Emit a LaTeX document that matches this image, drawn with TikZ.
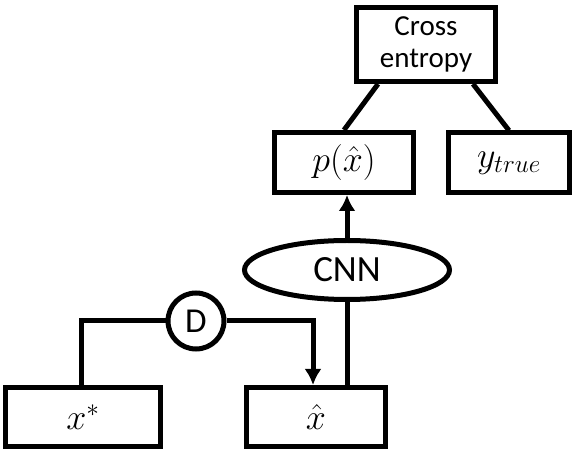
\RequirePackage{fix-cm}
\documentclass[tikz,border=0pt]{standalone}
\usepackage{amsmath}
\usepackage{fontspec}
\setmainfont{Carlito}
\usepackage{tikz}
\usetikzlibrary{arrows.meta,shapes.geometric}
\tikzstyle{blackbox}=[rectangle,draw=black,line width=5pt,
                      inner sep=0pt,minimum height=60pt]
\tikzstyle{blackoval}=[ellipse,draw=black,line width=5pt,
                       inner sep=0pt,minimum width=205pt,minimum height=59pt]
\tikzstyle{blackcirc}=[circle,draw=black,line width=5pt,
                       inner sep=0pt,minimum size=56pt]
\tikzstyle{link}=[line width=5pt]
\tikzstyle{arrow}=[line width=5pt,-{Latex[length=16pt,width=17pt]}]

\begin{document}
\begin{tikzpicture}[x=1pt,y=-1pt]
    \useasboundingbox (0,0) rectangle (574,454);
    \newcommand{\mathsz}{\fontsize{36}{40}\selectfont}
    \node (ce) at (426,44.5) [blackbox,minimum width=139pt,minimum height=74pt,
          align=center,font=\fontsize{29}{32}\selectfont]{Cross\\entropy};
    \node (p)  at (344,162.5) [blackbox,minimum width=139pt,font=\mathsz]{$p(\hat{x})$};
    \node (yt) at (509,163) [blackbox,minimum width=121pt,font=\mathsz]{$y_{true}$};
    \node (cnn) at (347,270) [blackoval,font=\fontsize{37}{42}\selectfont]{CNN};
    \node (dd) at (196,321) [blackcirc,font=\fontsize{35}{40}\selectfont]{D};
    \node (xh) at (316,417) [blackbox,minimum width=139pt,minimum height=59pt,font=\mathsz]{$\hat{x}$};
    \node (xs) at (83,417) [blackbox,minimum width=155pt,minimum height=59pt,font=\mathsz]{$x^{*}$};
    % loss on top
    \draw[link] ([xshift=-48pt]ce.south) -- (p.north);
    \draw[link] ([xshift=47pt]ce.south) -- (yt.north);
    % network
    \draw[arrow] (cnn.north) -- (cnn.north |- p.south);
    \draw[link] (cnn.south) -- (cnn.south |- xh.north);
    % degradation
    \draw[link] ([xshift=-2pt]xs.north) |- (dd.west);
    \draw[arrow] (dd.east) -| ([xshift=-3pt]xh.north);
  \end{tikzpicture}
\end{document}
